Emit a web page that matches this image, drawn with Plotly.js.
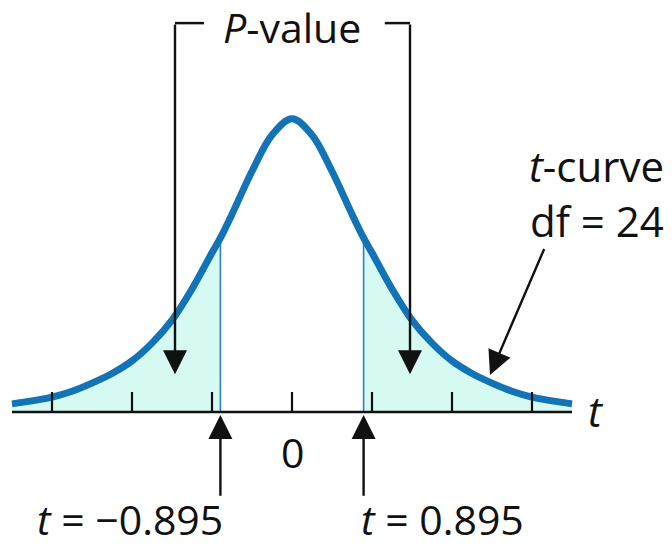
<!DOCTYPE html>
<html>
<head>
<meta charset="utf-8">
<script src="https://cdn.plot.ly/plotly-3.0.1.min.js"></script>
<style>html,body{margin:0;padding:0;background:#fff;}#chart{width:672px;height:549px;}</style>
</head>
<body>
<div id="chart"></div>
<script>
// ---- data ----
var tValues = [-3.5,-3.25,-3,-2.75,-2.5,-2.25,-2,-1.75,-1.5,-1.25,-1,-0.895,-0.75,-0.5,-0.25,0,
               0.25,0.5,0.75,0.895,1,1.25,1.5,1.75,2,2.25,2.5,2.75,3,3.25,3.5];
var density = [0.011,0.015,0.020,0.028,0.039,0.052,0.069,0.093,0.124,0.166,0.215,0.235,0.267,0.325,0.374,0.396,
               0.374,0.325,0.267,0.235,0.215,0.166,0.124,0.093,0.069,0.052,0.039,0.028,0.020,0.015,0.011];
var tCut = 0.895;
var tickValues = [-3,-2,-1,0,1,2,3];
var tickLabels = ['', '', '', '0', '', '', ''];
var leftLabel = '<i>t</i> = \u22120.895';
var rightLabel = '<i>t</i> = 0.895';
var pLabel = '<i>P</i>-value';
var curveLabel1 = '<i>t</i>-curve';
var curveLabel2 = 'df = 24';
var axisLabel = '<i>t</i>';

// ---- derived ----
function pick(cond){
  var xs=[],ys=[];
  for(var i=0;i<tValues.length;i++){ if(cond(tValues[i])){xs.push(tValues[i]);ys.push(density[i]);} }
  return {x:xs,y:ys};
}
var leftTail = pick(function(t){return t<=-tCut+1e-9;});
var rightTail = pick(function(t){return t>=tCut-1e-9;});
var cutHeight = density[tValues.indexOf(tCut)];

var FILL = '#d6f9f1';
var BLUE = '#1273b6';
var FONT = 'Open Sans, sans-serif';

var traces = [
  {x:leftTail.x, y:leftTail.y, type:'scatter', mode:'lines', fill:'tozeroy', fillcolor:FILL,
   line:{width:0, shape:'spline', color:FILL}, hoverinfo:'skip'},
  {x:rightTail.x, y:rightTail.y, type:'scatter', mode:'lines', fill:'tozeroy', fillcolor:FILL,
   line:{width:0, shape:'spline', color:FILL}, hoverinfo:'skip'},
  {x:[-tCut,-tCut], y:[0,cutHeight], type:'scatter', mode:'lines', line:{color:'#2c80bd', width:1.6}, hoverinfo:'skip'},
  {x:[tCut,tCut], y:[0,cutHeight], type:'scatter', mode:'lines', line:{color:'#2c80bd', width:1.6}, hoverinfo:'skip'},
  {x:tValues, y:density, type:'scatter', mode:'lines', line:{color:BLUE, width:7, shape:'spline', smoothing:1}, hoverinfo:'skip'}
];

var shapes = [];
// axis line
shapes.push({type:'line', xref:'x', yref:'y', x0:tValues[0], x1:tValues[tValues.length-1], y0:0, y1:0,
             line:{color:'#111', width:2.5}});
tickValues.forEach(function(v){
  shapes.push({type:'line', xref:'x', yref:'y', x0:v, x1:v, y0:0, y1:0.027, line:{color:'#111', width:2.2}});
});
// P-value bracket horizontals
shapes.push({type:'line', xref:'x', yref:'y', x0:-1.4625, x1:-1.1, y0:0.525, y1:0.525, line:{color:'#111', width:2.5}});
shapes.push({type:'line', xref:'x', yref:'y', x0:1.16, x1:1.475, y0:0.525, y1:0.525, line:{color:'#111', width:2.5}});

function arrow(x, y, ax, ay){
  return {x:x, y:y, ax:ax, ay:ay, xref:'x', yref:'y', axref:'x', ayref:'y', text:'', showarrow:true,
          arrowhead:2, arrowsize:2, arrowwidth:2.4, arrowcolor:'#111', standoff:0};
}
function label(x, y, text, size, xanchor){
  return {x:x, y:y, xref:'x', yref:'y', text:text, showarrow:false, xanchor:xanchor||'center', yanchor:'middle',
          borderpad:0, font:{family:FONT, size:size, color:'#111'}};
}

var annotations = [
  arrow(-1.4625, 0.051, -1.4625, 0.525),
  arrow(1.475, 0.051, 1.475, 0.525),
  arrow(-tCut, -0.004, -tCut, -0.115),
  arrow(tCut, -0.004, tCut, -0.115),
  arrow(2.475, 0.050, 3.16, 0.222),
  label(0.0, 0.520, pLabel, 41),
  label(0, -0.054, tickLabels[3], 41),
  label(-tCut+0.04, -0.1445, leftLabel, 41, 'right'),
  label(tCut-0.05, -0.1445, rightLabel, 41, 'left'),
  label(3.8, 0.002, axisLabel, 42),
  label(4.66, 0.333, curveLabel1, 42, 'right'),
  label(4.66, 0.258, curveLabel2, 42, 'right')
];

var layout = {
  width:672, height:549,
  margin:{l:0,r:0,t:0,b:0},
  paper_bgcolor:'#fff', plot_bgcolor:'#fff',
  showlegend:false,
  xaxis:{range:[-3.65,4.75], visible:false, fixedrange:true},
  yaxis:{range:[-0.18495,0.5562], visible:false, fixedrange:true},
  shapes:shapes,
  annotations:annotations
};

Plotly.newPlot('chart', traces, layout, {staticPlot:true, displayModeBar:false});
</script>
</body>
</html>
